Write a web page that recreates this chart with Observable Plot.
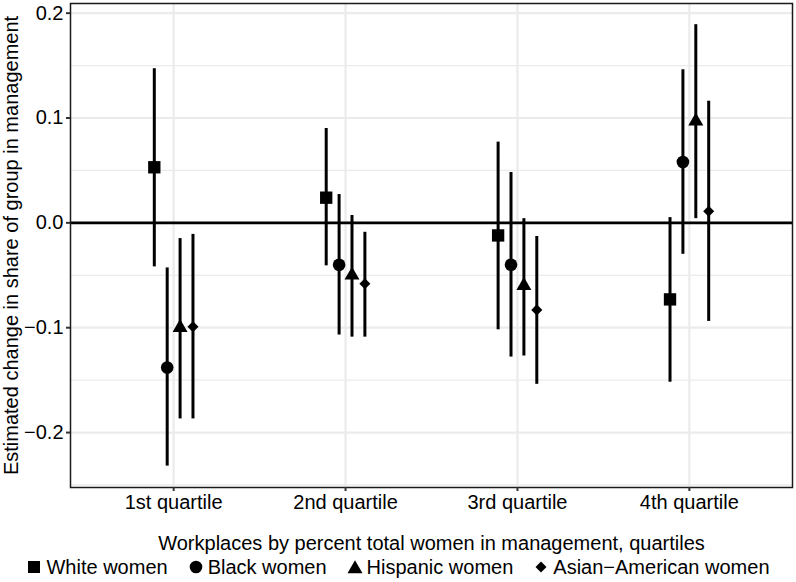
<!DOCTYPE html>
<html><head><meta charset="utf-8">
<script src="https://cdn.jsdelivr.net/npm/d3@7"></script>
<script src="https://cdn.jsdelivr.net/npm/@observablehq/plot@0.6"></script>
<style>
html,body{margin:0;padding:0;background:#fff;}
body{width:796px;height:582px;overflow:hidden;font-family:"Liberation Sans",Arial,Helvetica,sans-serif;}
#legend{display:flex;justify-content:center;align-items:center;height:30px;font-size:20px;color:#000;white-space:nowrap;}
.item{display:flex;align-items:center;margin:0 10px;}
.item svg{margin-right:4px;display:block;}
</style></head><body><div id="chart"></div><div id="legend"></div>
<script>
const quartiles = ["1st quartile", "2nd quartile", "3rd quartile", "4th quartile"];
const groups = ["White women", "Black women", "Hispanic women", "Asian\u2212American women"];

const whiteEst = [0.053, 0.024, -0.012, -0.073];
const whiteLo  = [-0.042, -0.041, -0.102, -0.152];
const whiteHi  = [0.147, 0.090, 0.077, 0.005];

const blackEst = [-0.138, -0.040, -0.040, 0.058];
const blackLo  = [-0.232, -0.107, -0.128, -0.030];
const blackHi  = [-0.043, 0.027, 0.048, 0.146];

const hispEst = [-0.100, -0.050, -0.060, 0.097];
const hispLo  = [-0.187, -0.109, -0.127, 0.004];
const hispHi  = [-0.015, 0.007, 0.004, 0.189];

const asianEst = [-0.099, -0.058, -0.083, 0.011];
const asianLo  = [-0.187, -0.109, -0.154, -0.094];
const asianHi  = [-0.011, -0.009, -0.013, 0.116];

const yTicks = [-0.2, -0.1, 0, 0.1, 0.2];
const yMinor = [-0.25, -0.15, -0.05, 0.05, 0.15];

const series = [[whiteEst, whiteLo, whiteHi], [blackEst, blackLo, blackHi], [hispEst, hispLo, hispHi], [asianEst, asianLo, asianHi]];
const dodgeWidth = 0.3;
const rows = [];
groups.forEach((g, gi) => {
  quartiles.forEach((q, qi) => {
    rows.push({group: g, quartile: q, x: qi + 1 + (gi - 1.5) * dodgeWidth / 4,
      est: series[gi][0][qi], lo: series[gi][1][qi], hi: series[gi][2][qi]});
  });
});

const K = s => Math.sqrt(s / Math.PI);
const symSquare = {draw(ctx, size) { const h = 0.95 * K(size); ctx.moveTo(-h, -h); ctx.lineTo(h, -h); ctx.lineTo(h, h); ctx.lineTo(-h, h); ctx.closePath(); }};
const symCircle = {draw(ctx, size) { const r = 0.97 * K(size); ctx.moveTo(r, 0); ctx.arc(0, 0, r, 0, 2 * Math.PI); ctx.closePath(); }};
const symTriangle = {draw(ctx, size) { const r = 1.33 * K(size); const xc = r * Math.sqrt(3) / 2; ctx.moveTo(0, -r); ctx.lineTo(xc, r / 2); ctx.lineTo(-xc, r / 2); ctx.closePath(); }};
const symDiamond = {draw(ctx, size) { const h = 0.85 * K(size); ctx.moveTo(0, -h); ctx.lineTo(h, 0); ctx.lineTo(0, h); ctx.lineTo(-h, 0); ctx.closePath(); }};
const symbols = [symSquare, symCircle, symTriangle, symDiamond];

const fmt = d => (d < 0 ? "\u2212" : "") + Math.abs(d).toFixed(1);
const FONT = "'Liberation Sans', Arial, Helvetica, sans-serif";

const chart = Plot.plot({
  width: 796, height: 552,
  marginLeft: 70, marginRight: 4, marginTop: 3, marginBottom: 65,
  style: {fontFamily: FONT, background: "#fff", color: "#000", overflow: "visible"},
  x: {domain: [0.4, 4.6]},
  y: {domain: [-0.2524, 0.2092]},
  symbol: {domain: groups, range: symbols},
  marks: [
    Plot.gridY(yMinor, {stroke: "#ebebeb", strokeOpacity: 1, strokeWidth: 1.3}),
    Plot.gridY(yTicks, {stroke: "#ebebeb", strokeOpacity: 1, strokeWidth: 2.2}),
    Plot.gridX([1, 2, 3, 4], {stroke: "#ebebeb", strokeOpacity: 1, strokeWidth: 2.2}),
    Plot.ruleY([0], {stroke: "#000", strokeWidth: 2.6}),
    Plot.ruleX(rows, {x: "x", y1: "lo", y2: "hi", stroke: "#000", strokeWidth: 3}),
    Plot.dot(rows, {x: "x", y: "est", symbol: "group", fill: "#000", stroke: "none", r: 6.5}),
    Plot.frame({stroke: "#1a1a1a", strokeWidth: 1.5}),
    Plot.axisY(yTicks, {tickFormat: fmt, tickSize: 4, tickPadding: 3, fontSize: 20, stroke: "#333", strokeWidth: 2,
      label: "Estimated change in share of group in management", labelAnchor: "center", labelOffset: 67, labelArrow: "none"}),
    Plot.axisX([1, 2, 3, 4], {tickFormat: d => quartiles[d - 1], tickSize: 4, tickPadding: 3, fontSize: 20, stroke: "#333", strokeWidth: 2,
      label: "Workplaces by percent total women in management, quartiles", labelAnchor: "center", labelOffset: 62, labelArrow: "none"})
  ]
});
document.getElementById("chart").appendChild(chart);

const legendPaths = [
  "M2,2H14V14H2Z",
  "M14.3,8A6.3,6.3 0 1 1 1.7,8A6.3,6.3 0 1 1 14.3,8Z",
  "M8,1.2L15.5,14.2H0.5Z",
  "M8,2.5L13.5,8L8,13.5L2.5,8Z"
];
const legend = document.getElementById("legend");
groups.forEach((g, i) => {
  const item = document.createElement("div");
  item.className = "item";
  item.innerHTML = `<svg width="16" height="16" viewBox="0 0 16 16"><path d="${legendPaths[i]}" fill="#000"/></svg><span>${g}</span>`;
  legend.appendChild(item);
});
</script></body></html>
